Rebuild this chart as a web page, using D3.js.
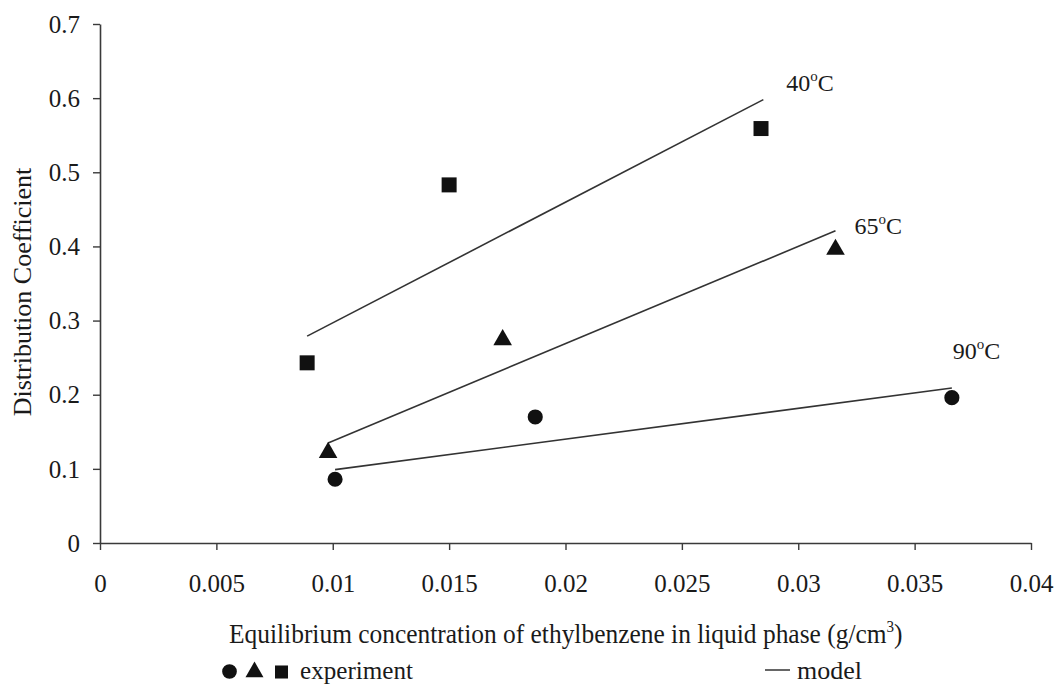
<!DOCTYPE html>
<html>
<head>
<meta charset="utf-8">
<script src="https://cdn.jsdelivr.net/npm/d3@7"></script>
<style>
  html, body { margin: 0; padding: 0; background: #fff; }
  svg { display: block; }
  svg text { font-family: "Liberation Serif", "Times New Roman", Times, "DejaVu Serif", serif !important; fill: #1a1a1a; }
</style>
</head>
<body>
<svg id="chart" width="1056" height="685"></svg>
<script>
// Experimental distribution coefficients at three temperatures
const temperatures = ["40", "65", "90"];
const exp40X = [0.0089, 0.0150, 0.0284];
const exp40Y = [0.243, 0.483, 0.559];
const exp65X = [0.0098, 0.0173, 0.0316];
const exp65Y = [0.122, 0.274, 0.396];
const exp90X = [0.0101, 0.0187, 0.0366];
const exp90Y = [0.086, 0.170, 0.196];

// Model lines (start and end points)
const model40X = [0.0089, 0.0285];
const model40Y = [0.279, 0.598];
const model65X = [0.0098, 0.0316];
const model65Y = [0.135, 0.421];
const model90X = [0.0101, 0.0366];
const model90Y = [0.099, 0.209];

const xTicks = [0, 0.005, 0.01, 0.015, 0.02, 0.025, 0.03, 0.035, 0.04];
const yTicks = [0, 0.1, 0.2, 0.3, 0.4, 0.5, 0.6, 0.7];

const FONT = "'Liberation Serif', 'Times New Roman', Times, serif";

const svg = d3.select("#chart");
const x = d3.scaleLinear().domain([0, 0.04]).range([100, 1031]);
const y = d3.scaleLinear().domain([0, 0.7]).range([543, 24]);

const axisColor = "#3a3a3a";

// X axis
const xAxis = svg.append("g")
  .attr("transform", `translate(0,${y(0)})`)
  .call(d3.axisBottom(x).tickValues(xTicks).tickSize(7).tickSizeOuter(0)
    .tickFormat(d => d === 0 ? "0" : String(+d.toFixed(3))));
xAxis.attr("font-family", FONT);
xAxis.select(".domain").attr("stroke", axisColor).attr("stroke-width", 1.6);
xAxis.selectAll(".tick line").attr("stroke", axisColor).attr("stroke-width", 1.4);
xAxis.selectAll(".tick text")
  .attr("y", 49).attr("dy", 0)
  .attr("font-size", 25).attr("fill", "#1a1a1a");

// Y axis
const yAxis = svg.append("g")
  .attr("transform", `translate(${x(0)},0)`)
  .call(d3.axisLeft(y).tickValues(yTicks).tickSize(7).tickSizeOuter(0)
    .tickFormat(d => d === 0 ? "0" : String(+d.toFixed(1))));
yAxis.attr("font-family", FONT);
yAxis.select(".domain").attr("stroke", axisColor).attr("stroke-width", 1.6);
yAxis.selectAll(".tick line").attr("stroke", axisColor).attr("stroke-width", 1.4);
yAxis.selectAll(".tick text")
  .attr("x", -20).attr("dy", "0.33em")
  .attr("font-size", 25).attr("fill", "#1a1a1a");

// Model lines
const models = [
  { xs: model40X, ys: model40Y },
  { xs: model65X, ys: model65Y },
  { xs: model90X, ys: model90Y }
];
const line = d3.line().x(d => x(d[0])).y(d => y(d[1]));
models.forEach(m => {
  svg.append("path")
    .attr("d", line(d3.zip(m.xs, m.ys)))
    .attr("fill", "none")
    .attr("stroke", "#333")
    .attr("stroke-width", 1.6);
});

// Temperature labels next to each model line end
const labelOffsets = [[23, -9], [19, 3], [1, -29]];
models.forEach((m, i) => {
  const ex = x(m.xs[1]) + labelOffsets[i][0];
  const ey = y(m.ys[1]) + labelOffsets[i][1];
  const t = svg.append("text").attr("x", ex).attr("y", ey).attr("font-size", 24);
  t.append("tspan").text(temperatures[i]);
  t.append("tspan").attr("font-size", 15).attr("dy", -10).text("o");
  t.append("tspan").attr("dy", 10).text("C");
});

// Experimental markers
const markColor = "#111";
const sqSym = d3.symbol().type(d3.symbolSquare).size(225);
const triSym = d3.symbol().type(d3.symbolTriangle).size(150);
const cirSym = d3.symbol().type(d3.symbolCircle).size(180);

d3.zip(exp40X, exp40Y).forEach(d => {
  svg.append("path").attr("d", sqSym()).attr("fill", markColor)
    .attr("transform", `translate(${x(d[0])},${y(d[1])})`);
});
d3.zip(exp65X, exp65Y).forEach(d => {
  svg.append("path").attr("d", triSym()).attr("fill", markColor)
    .attr("transform", `translate(${x(d[0])},${y(d[1])})`);
});
d3.zip(exp90X, exp90Y).forEach(d => {
  svg.append("path").attr("d", cirSym()).attr("fill", markColor)
    .attr("transform", `translate(${x(d[0])},${y(d[1])})`);
});

// Place a text at (px, py) and squeeze it horizontally to a given width
function fitText(sel, px, py, width) {
  const w = sel.node().getBBox().width;
  const sx = w > 0 ? width / w : 1;
  sel.attr("transform", `translate(${px},${py}) scale(${sx},1)`);
}

// Axis titles
const xt = svg.append("text").attr("font-size", 27);
xt.append("tspan").text("Equilibrium concentration of ethylbenzene in liquid phase (g/cm");
xt.append("tspan").attr("font-size", 16).attr("dy", -11).text("3");
xt.append("tspan").attr("dy", 11).text(")");
fitText(xt, 229, 643, 674);

svg.append("text")
  .attr("transform", "translate(31,292) rotate(-90)")
  .attr("text-anchor", "middle")
  .attr("font-size", 26)
  .text("Distribution Coefficient");

// Legend row
svg.append("path").attr("d", d3.symbol().type(d3.symbolCircle).size(170)()).attr("fill", markColor)
  .attr("transform", "translate(229.5,671.5)");
svg.append("path").attr("d", d3.symbol().type(d3.symbolTriangle).size(140)()).attr("fill", markColor)
  .attr("transform", "translate(254.5,672)");
svg.append("path").attr("d", d3.symbol().type(d3.symbolSquare).size(170)()).attr("fill", markColor)
  .attr("transform", "translate(281.5,672)");
const expText = svg.append("text").attr("font-size", 25).text("experiment");
fitText(expText, 300, 679, 113);

svg.append("line").attr("x1", 765).attr("x2", 790).attr("y1", 670).attr("y2", 670)
  .attr("stroke", "#333").attr("stroke-width", 1.5);
const modelText = svg.append("text").attr("font-size", 25).text("model");
fitText(modelText, 797, 679, 65);
</script>
</body>
</html>
